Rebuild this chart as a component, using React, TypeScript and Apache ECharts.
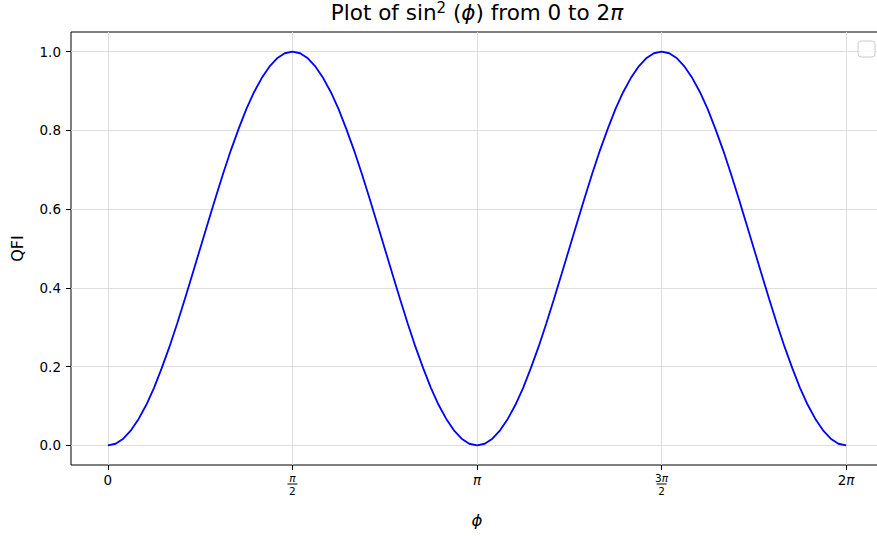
import React, { useEffect, useRef } from "react";
import * as echarts from "echarts";

// phi samples (radians), step pi/48
const phiValues = [
  0, 0.0654, 0.1309, 0.1963, 0.2618, 0.3272, 0.3927, 0.4581, 0.5236, 0.589, 0.6545, 0.7199,
  0.7854, 0.8508, 0.9163, 0.9817, 1.0472, 1.1126, 1.1781, 1.2435, 1.309, 1.3744, 1.4399, 1.5053,
  1.5708, 1.6362, 1.7017, 1.7671, 1.8326, 1.898, 1.9635, 2.0289, 2.0944, 2.1598, 2.2253, 2.2907,
  2.3562, 2.4216, 2.4871, 2.5525, 2.618, 2.6834, 2.7489, 2.8143, 2.8798, 2.9452, 3.0107, 3.0761,
  3.1416, 3.207, 3.2725, 3.3379, 3.4034, 3.4688, 3.5343, 3.5997, 3.6652, 3.7306, 3.7961, 3.8615,
  3.927, 3.9924, 4.0579, 4.1233, 4.1888, 4.2542, 4.3197, 4.3851, 4.4506, 4.516, 4.5815, 4.6469,
  4.7124, 4.7778, 4.8433, 4.9087, 4.9742, 5.0396, 5.1051, 5.1705, 5.236, 5.3014, 5.3669, 5.4323,
  5.4978, 5.5632, 5.6287, 5.6941, 5.7596, 5.825, 5.8905, 5.9559, 6.0214, 6.0868, 6.1523, 6.2177,
  6.2832,
];
// QFI values
const qfiValues = [
  0, 0.004, 0.017, 0.038, 0.067, 0.103, 0.146, 0.196, 0.25, 0.309, 0.371, 0.435,
  0.5, 0.565, 0.629, 0.691, 0.75, 0.804, 0.854, 0.897, 0.933, 0.962, 0.983, 0.996,
  1, 0.996, 0.983, 0.962, 0.933, 0.897, 0.854, 0.804, 0.75, 0.691, 0.629, 0.565,
  0.5, 0.435, 0.371, 0.309, 0.25, 0.196, 0.146, 0.103, 0.067, 0.038, 0.017, 0.004,
  0, 0.004, 0.017, 0.038, 0.067, 0.103, 0.146, 0.196, 0.25, 0.309, 0.371, 0.435,
  0.5, 0.565, 0.629, 0.691, 0.75, 0.804, 0.854, 0.897, 0.933, 0.962, 0.983, 0.996,
  1, 0.996, 0.983, 0.962, 0.933, 0.897, 0.854, 0.804, 0.75, 0.691, 0.629, 0.565,
  0.5, 0.435, 0.371, 0.309, 0.25, 0.196, 0.146, 0.103, 0.067, 0.038, 0.017, 0.004,
  0,
];
const xTickValues = [0, 1.5708, 3.1416, 4.7124, 6.2832];
const xTickLabels = ["0", "π/2", "π", "3π/2", "2π"];
const yTickValues = [0, 0.2, 0.4, 0.6, 0.8, 1.0];
const yTickLabels = ["0.0", "0.2", "0.4", "0.6", "0.8", "1.0"];

const FONT = "DejaVu Sans";

function fmtX(label: string): string {
  if (label.includes("/")) {
    const [num, den] = label.split("/");
    const digits = num.replace("π", "");
    const numRich = (digits ? `{n|${digits}}` : "") + "{ni|π}";
    return `${numRich}\n{b| }\n{d|${den}}`;
  }
  if (label.includes("π")) {
    const digits = label.replace("π", "");
    return digits + "{it|π}";
  }
  return label;
}

function nearestIndex(vals: number[], v: number): number {
  let idx = 0;
  let best = Infinity;
  vals.forEach((t, i) => {
    const d = Math.abs(t - v);
    if (d < best) {
      best = d;
      idx = i;
    }
  });
  return idx;
}

export default function App() {
  const ref = useRef<HTMLDivElement>(null);
  useEffect(() => {
    if (!ref.current) return;
    const chart = echarts.init(ref.current, undefined, { renderer: "svg" });
    const data = phiValues.map((p, i) => [p, qfiValues[i]]);
    const gridColor = "#dedede";
    chart.setOption({
      animation: false,
      backgroundColor: "#ffffff",
      textStyle: { fontFamily: FONT },
      title: {
        text: "Plot of sin{sup|2} ({it|ϕ}) from 0 to 2{it|π}",
        left: 477,
        top: 0,
        padding: 0,
        textAlign: "center",
        textStyle: {
          fontFamily: FONT,
          fontSize: 21.5,
          fontWeight: "normal",
          color: "#000",
          rich: {
            sup: { fontFamily: FONT, fontSize: 15, color: "#000", verticalAlign: "top", padding: [0, 0, 10, 0] },
            it: { fontFamily: FONT, fontSize: 21.5, fontStyle: "italic", color: "#000" },
          },
        },
      },
      grid: {
        left: 71,
        top: 32,
        width: 812,
        height: 433,
        show: true,
        borderColor: "#000",
        borderWidth: 1,
        backgroundColor: "transparent",
      },
      xAxis: {
        type: "value",
        min: -0.314,
        max: 6.597,
        name: "ϕ",
        nameLocation: "middle",
        nameGap: 47,
        nameTextStyle: { fontFamily: FONT, fontSize: 16.5, fontStyle: "italic", color: "#000" },
        axisLine: { show: false, onZero: false },
        axisTick: { show: true, length: 5, customValues: xTickValues, lineStyle: { color: "#000", width: 1 } },
        axisLabel: {
          show: true,
          margin: 8,
          customValues: xTickValues,
          color: "#000",
          fontSize: 13.5,
          fontFamily: FONT,
          formatter: (v: number) => fmtX(xTickLabels[nearestIndex(xTickValues, v)]),
          rich: {
            it: { fontFamily: FONT, fontSize: 13.5, fontStyle: "italic", color: "#000" },
            n: { fontFamily: FONT, fontSize: 10.5, lineHeight: 10, color: "#000" },
            ni: { fontFamily: FONT, fontSize: 10.5, lineHeight: 10, fontStyle: "italic", color: "#000" },
            b: { fontSize: 1, lineHeight: 2, height: 1, width: 10, backgroundColor: "#000" },
            d: { fontFamily: FONT, fontSize: 10.5, lineHeight: 11, color: "#000" },
          },
        },
        splitLine: { show: false },
      },
      yAxis: {
        type: "value",
        min: -0.05,
        max: 1.05,
        name: "QFI",
        nameLocation: "middle",
        nameGap: 46,
        nameRotate: 90,
        nameTextStyle: { fontFamily: FONT, fontSize: 16, color: "#000" },
        axisLine: { show: false, onZero: false },
        axisTick: { show: true, length: 5, customValues: yTickValues, lineStyle: { color: "#000", width: 1 } },
        axisLabel: {
          show: true,
          margin: 10,
          customValues: yTickValues,
          color: "#000",
          fontSize: 13.5,
          fontFamily: FONT,
          formatter: (v: number) => yTickLabels[nearestIndex(yTickValues, v)],
        },
        splitLine: { show: false },
      },
      series: [
        {
          type: "line",
          data: [],
          z: 1,
          silent: true,
          markLine: {
            z: 1,
            silent: true,
            symbol: ["none", "none"],
            label: { show: false },
            animation: false,
            lineStyle: { color: gridColor, width: 1, type: "solid" },
            emphasis: { disabled: true },
            data: [
              ...xTickValues.map((v) => ({ xAxis: v })),
              ...yTickValues.map((v) => ({ yAxis: v })),
            ],
          },
        },
        {
          type: "line",
          data,
          z: 3,
          showSymbol: false,
          symbol: "none",
          lineStyle: { color: "#0000ff", width: 1.8 },
          silent: true,
        },
      ],
      graphic: [
        {
          type: "rect",
          shape: { x: 858, y: 41, width: 17, height: 16, r: 3 },
          style: { fill: "rgba(255,255,255,0.8)", stroke: "#cccccc", lineWidth: 1 },
          z: 10,
        },
      ],
    });
    return () => chart.dispose();
  }, []);
  return (
    <div
      ref={ref}
      style={{ position: "fixed", left: 0, top: 0, width: 892, height: 536, background: "#fff" }}
    />
  );
}
